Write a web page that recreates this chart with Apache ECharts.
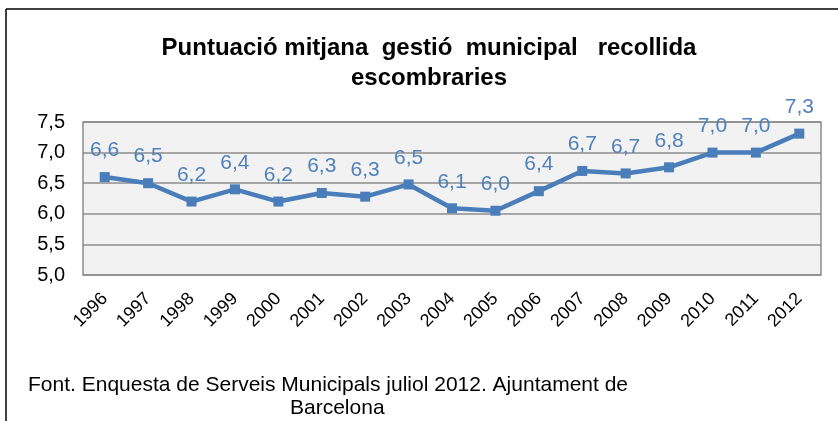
<!DOCTYPE html>
<html>
<head>
<meta charset="utf-8">
<script src="https://cdn.jsdelivr.net/npm/echarts@6/dist/echarts.min.js"></script>
<style>
  html, body { margin: 0; padding: 0; background: #ffffff; }
  #chart { width: 838px; height: 421px; }
</style>
</head>
<body>
<div id="chart"></div>
<script>
const years = ['1996', '1997', '1998', '1999', '2000', '2001', '2002', '2003', '2004',
  '2005', '2006', '2007', '2008', '2009', '2010', '2011', '2012']
const scores = [6.6, 6.5, 6.2, 6.4, 6.2, 6.34, 6.28, 6.48, 6.09, 6.05, 6.37, 6.7, 6.66, 6.76, 7.0, 7.0, 7.31]
const titleLines = ['Puntuació mitjana  gestió  municipal   recollida', 'escombraries']
const sourceLines = ['Font. Enquesta de Serveis Municipals juliol 2012. Ajuntament de', 'Barcelona']

const blue = '#4a7ebb'
const comma = (v) => v.toFixed(1).replace('.', ',')

const chart = echarts.init(document.getElementById('chart'))
const option = {
  backgroundColor: '#ffffff',
  animation: false,
  title: {
    text: titleLines.join('\n'),
    left: 424,
    textAlign: 'center',
    top: 28,
    textStyle: {
      fontFamily: 'Liberation Sans, Arial, sans-serif',
      fontSize: 24,
      fontWeight: 'bold',
      color: '#000000',
      lineHeight: 30,
    },
  },
  grid: {
    left: 83,
    right: 17,
    top: 122,
    bottom: 146,
    show: true,
    backgroundColor: '#f2f2f2',
    borderColor: '#8c8c8c',
    borderWidth: 1.5,
  },
  xAxis: {
    type: 'category',
    data: years,
    boundaryGap: true,
    axisLine: { show: false },
    axisTick: { show: false },
    axisLabel: {
      rotate: 45,
      margin: 21,
      fontFamily: 'Liberation Sans, Arial, sans-serif',
      fontSize: 18,
      color: '#000000',
    },
  },
  yAxis: {
    type: 'value',
    min: 5,
    max: 7.5,
    interval: 0.5,
    axisLine: { show: false },
    axisTick: { show: false },
    splitLine: { lineStyle: { color: '#8c8c8c', width: 1.5 } },
    axisLabel: {
      margin: 18,
      fontFamily: 'Liberation Sans, Arial, sans-serif',
      fontSize: 20,
      color: '#000000',
      formatter: comma,
    },
  },
  series: [
    {
      type: 'line',
      data: scores,
      symbol: 'rect',
      symbolSize: 10,
      lineStyle: { color: blue, width: 4.5 },
      itemStyle: { color: blue },
      label: {
        show: true,
        position: 'top',
        distance: 11,
        fontFamily: 'Liberation Sans, Arial, sans-serif',
        fontSize: 21,
        color: '#4f81bd',
        formatter: (p) => comma(p.value),
      },
    },
  ],
  graphic: [
    { type: 'line', shape: { x1: 6, y1: 9, x2: 838, y2: 9 }, style: { stroke: '#000000', lineWidth: 1.5 } },
    { type: 'line', shape: { x1: 6, y1: 9, x2: 6, y2: 421 }, style: { stroke: '#000000', lineWidth: 1.5 } },
    {
      type: 'text',
      x: 28,
      y: 375,
      style: {
        text: sourceLines[0],
        font: '21px "Liberation Sans", Arial, sans-serif',
        fill: '#000000',
      },
    },
    {
      type: 'text',
      x: 290,
      y: 398,
      style: {
        text: sourceLines[1],
        font: '21px "Liberation Sans", Arial, sans-serif',
        fill: '#000000',
      },
    },
  ],
}
chart.setOption(option)
</script>
</body>
</html>
